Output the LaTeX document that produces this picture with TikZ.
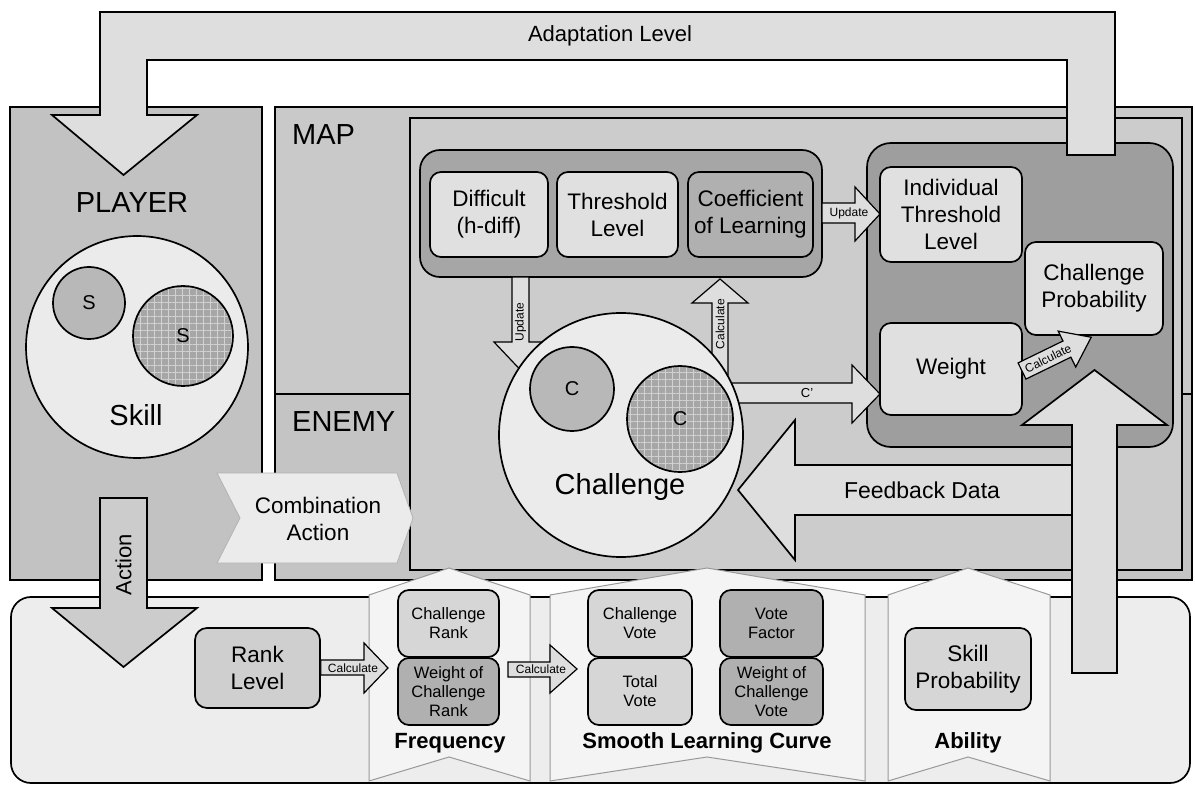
\documentclass[tikz,border=0pt]{standalone}
\usepackage{fontspec}
\setmainfont{Liberation Sans}
\usetikzlibrary{patterns.meta,calc}

\definecolor{panelgray}{gray}{0.76}
\definecolor{mapgray}{gray}{0.79}
\definecolor{enemygray}{gray}{0.77}
\definecolor{innergray}{gray}{0.80}
\definecolor{darkgrayA}{gray}{0.65}
\definecolor{darkgrayB}{gray}{0.62}
\definecolor{lightbox}{gray}{0.88}
\definecolor{softbox}{gray}{0.84}
\definecolor{midbox}{gray}{0.69}
\definecolor{arrowgray}{gray}{0.87}
\definecolor{actiongray}{gray}{0.80}
\definecolor{circlefill}{gray}{0.92}
\definecolor{smallcircle}{gray}{0.72}
\definecolor{gridbase}{gray}{0.65}
\definecolor{gridline}{gray}{0.82}
\definecolor{bottomgray}{gray}{0.93}
\definecolor{subfill}{gray}{0.955}
\definecolor{subedge}{gray}{0.60}
\definecolor{rankgray}{gray}{0.81}
\definecolor{chevgray}{gray}{0.92}

\newcommand{\sizedfont}[2]{\fontsize{#1}{#2}\selectfont}

\tikzset{
  outl/.style={draw=black, line width=1.7pt},
  thinoutl/.style={draw=black, line width=1.2pt},
  ltbox/.style={outl, rounded corners=11pt, fill=lightbox, align=center, inner sep=0pt},
  mdbox/.style={outl, rounded corners=11pt, fill=midbox, align=center, inner sep=0pt},
  bigtxt/.style={font=\sizedfont{29}{32}},
  midtxt/.style={font=\sizedfont{22.5}{27}, align=center},
  smalltxt/.style={font=\sizedfont{16.5}{19}, align=center},
  tinytxt/.style={font=\sizedfont{12}{12}, inner sep=0pt},
  boldtxt/.style={font=\bfseries\sizedfont{22}{24}},
  lettertxt/.style={font=\sizedfont{20}{20}, inner sep=0pt},
  gridded/.style={preaction={fill=gridbase}, pattern={Hatch[angle=0, distance=7pt, line width=1pt]}, pattern color=gridline},
  subpanel/.style={draw=subedge, line width=1pt, fill=subfill},
  blockarr/.style={thinoutl, fill=arrowgray},
}

\begin{document}
\begin{tikzpicture}[x=1pt,y=-1pt, line join=miter]
\path[use as bounding box, fill=white] (0,0) rectangle (1195,786);

% ---------------- panels ----------------
\node[outl, fill=panelgray, minimum width=252, minimum height=473, inner sep=0pt] (player) at (136,343.5) {};
\node[outl, fill=mapgray, minimum width=917, minimum height=473, inner sep=0pt] (mappanel) at (733.5,343.5) {};
\fill[enemygray] (276,394) rectangle (1191,579);
\draw[outl] (275,394) -- (1192,394);
\node[outl, fill=innergray, minimum width=772, minimum height=452, inner sep=0pt] (inner) at (796,344) {};

\node[bigtxt] (playerlbl) at (132,203) {PLAYER};
\node[bigtxt, anchor=west, inner sep=0pt] (maplbl) at (292,135) {MAP};
\node[bigtxt, anchor=west, inner sep=0pt] (enemylbl) at (292,422) {ENEMY};

% ---------------- parameter groups ----------------
\node[outl, fill=darkgrayA, rounded corners=20pt, minimum width=402, minimum height=127, inner sep=0pt] (topgrp) at (621,213.5) {};
\node[ltbox, midtxt, minimum width=118, minimum height=85] (dif) at (489,214.5) {Difficult\\(h-diff)};
\node[ltbox, midtxt, minimum width=121, minimum height=85] (thr) at (617.5,214.5) {Threshold\\Level};
\node[mdbox, midtxt, minimum width=125, minimum height=85] (coef) at (750.5,214.5) {Coefficient\\of Learning};

\node[outl, fill=darkgrayB, rounded corners=24pt, minimum width=306, minimum height=304, inner sep=0pt] (rightgrp) at (1020,295) {};

% arrows into / out of the challenge
\draw[blockarr] (512,277) -- (512,342) -- (494,342) -- (520.5,370) -- (547,342) -- (529,342) -- (529,277) -- cycle;
\node[tinytxt, rotate=90] (updlbl) at (520.5,322) {Update};
\draw[blockarr] (712,375) -- (712,303) -- (692,303) -- (720,279) -- (748,303) -- (728,303) -- (728,375) -- cycle;
\node[tinytxt, rotate=90] (callbl) at (720,324) {Calculate};
\draw[blockarr] (725,383) -- (852,383) -- (852,365) -- (880,394) -- (852,423) -- (852,403) -- (725,403) -- cycle;
\node[font=\sizedfont{13}{13}, inner sep=0pt] (cprime) at (807,393) {C'};
\draw[blockarr] (822,203) -- (855,203) -- (855,187) -- (880,214) -- (855,241) -- (855,223) -- (822,223) -- cycle;
\node[tinytxt] (updlbl2) at (849,213) {Update};

\node[ltbox, midtxt, minimum width=142, minimum height=95] (ind) at (951,214.5) {Individual\\Threshold\\Level};
\node[ltbox, midtxt, minimum width=138, minimum height=93] (cprob) at (1094,288.5) {Challenge\\Probability};
\node[ltbox, midtxt, minimum width=142, minimum height=92] (weight) at (951,369) {Weight};

% feedback arrow
\draw[outl, fill=arrowgray] (1072,465) -- (795,465) -- (795,420) -- (738,490) -- (795,560) -- (795,515) -- (1072,515) -- cycle;
\node[font=\sizedfont{23}{23}] (fblbl) at (922,490) {Feedback Data};

% ---------------- challenge ----------------
\node[outl, circle, fill=circlefill, minimum size=244, inner sep=0pt] (challenge) at (621,435) {};
\node[outl, circle, fill=smallcircle, minimum size=84, inner sep=0pt] (csmall) at (572,389) {};
\node[lettertxt] at (csmall) {C};
\node[outl, circle, gridded, minimum size=106, inner sep=0pt] (cbig) at (680,419) {};
\node[lettertxt] at (cbig) {C};
\node[bigtxt] (challbl) at (620,487) {Challenge};

% ---------------- skill ----------------
\node[outl, circle, fill=circlefill, minimum size=222, inner sep=0pt] (skill) at (137,347) {};
\node[outl, circle, fill=smallcircle, minimum size=72, inner sep=0pt] (ssmall) at (89,303) {};
\node[lettertxt] at (ssmall) {S};
\node[outl, circle, gridded, minimum size=100, inner sep=0pt] (sbig) at (183,336) {};
\node[lettertxt] at (sbig) {S};
\node[bigtxt] (skilllbl) at (136,415) {Skill};

% ---------------- adaptation level loop ----------------
\draw[outl, fill=arrowgray] (52,115) -- (123.5,175) -- (197,115) -- (147,115) -- (147,60) -- (1067,60)
   -- (1067,155) -- (1115,155) -- (1115,12) -- (100,12) -- (100,115) -- cycle;
\node[font=\sizedfont{22}{22}] (adaptlbl) at (610,36) {Adaptation Level};

% combination action chevron
\draw[draw=gray!60, line width=0.8pt, fill=chevgray] (217,473) -- (397,473) -- (413,518) -- (397,563) -- (217,563) -- (240,518) -- cycle;
\node[midtxt] (comb) at (318,519) {Combination\\Action};

% ---------------- bottom layer ----------------
\node[outl, fill=bottomgray, rounded corners=20pt, minimum width=1179, minimum height=186, inner sep=0pt] (bottom) at (600.5,690) {};

\draw[subpanel] (369,595) -- (449,568) -- (530,595) -- (530,781) -- (449,757) -- (369,781) -- cycle;
\draw[subpanel] (550,595) -- (707,568) -- (865,595) -- (865,781) -- (707,757) -- (550,781) -- cycle;
\draw[subpanel] (888,595) -- (968,568) -- (1050,595) -- (1050,781) -- (968,757) -- (888,781) -- cycle;

\node[outl, fill=rankgray, rounded corners=12pt, minimum width=125, minimum height=80, inner sep=0pt, midtxt] (rank) at (257.5,668) {Rank\\Level};

\node[ltbox, smalltxt, fill=softbox, minimum width=101, minimum height=67] (crank) at (448.5,623.5) {Challenge\\Rank};
\node[mdbox, smalltxt, minimum width=101, minimum height=67] (wcrank) at (448.5,691.5) {Weight of\\Challenge\\Rank};
\node[boldtxt] (freqlbl) at (450,743) {Frequency};

\node[ltbox, smalltxt, fill=softbox, minimum width=104, minimum height=67] (cvote) at (640,623.5) {Challenge\\Vote};
\node[ltbox, smalltxt, fill=softbox, minimum width=104, minimum height=67] (tvote) at (640,691.5) {Total\\Vote};
\node[mdbox, smalltxt, minimum width=103, minimum height=67] (vfac) at (771.5,623.5) {Vote\\Factor};
\node[mdbox, smalltxt, minimum width=103, minimum height=67] (wcvote) at (771.5,691.5) {Weight of\\Challenge\\Vote};
\node[boldtxt] (slclbl) at (707,743) {Smooth Learning Curve};

\node[ltbox, midtxt, fill=softbox, minimum width=126, minimum height=82] (sprob) at (968,669) {Skill\\Probability};
\node[boldtxt] (abilbl) at (968,743) {Ability};

% calculate arrows in the bottom layer
\draw[blockarr] (rank.east |- 0,660) -- (364,660) -- (364,643) -- (388,668) -- (364,693) -- (364,675) -- (rank.east |- 0,675) -- cycle;
\node[tinytxt] (calc1) at (353,668) {Calculate};
\draw[blockarr] (508,662) -- (550,662) -- (550,645) -- (577,669) -- (550,693) -- (550,677) -- (508,677) -- cycle;
\node[tinytxt] (calc2) at (541,669) {Calculate};

% action arrow
\draw[outl, fill=actiongray] (100,498) -- (147,498) -- (147,608) -- (197,608) -- (123.5,667) -- (52,608) -- (100,608) -- cycle;
\node[font=\sizedfont{22}{22}, rotate=90] (actlbl) at (123.5,565) {Action};

% ability up into the challenge probability group
\draw[outl, fill=arrowgray] (1072,673) -- (1117,673) -- (1117,425) -- (1167,425) -- (1094.5,370) -- (1022,425) -- (1072,425) -- cycle;

% weight -> challenge probability
\begin{scope}[shift={(1022,371)}, rotate=26]
  \draw[blockarr] (0,-9) -- (50,-9) -- (50,-20) -- (77,0) -- (50,20) -- (50,9) -- (0,9) -- cycle;
  \node[tinytxt, rotate=26] (calc3) at (29,0) {Calculate};
\end{scope}
\end{tikzpicture}
\end{document}
